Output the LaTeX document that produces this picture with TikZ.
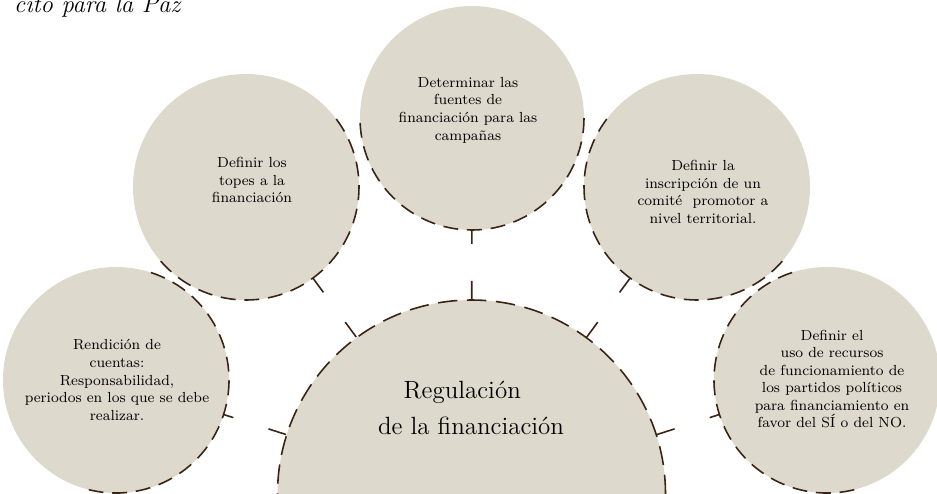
\documentclass[tikz,border=0pt]{standalone}
\usepackage{tikz}
\usetikzlibrary{calc}
\definecolor{discfill}{HTML}{DDD9CC}
\definecolor{rimbrown}{HTML}{3B2314}
\tikzset{
	disc/.style={circle, fill=discfill, inner sep=0pt},
	rim/.style={draw=rimbrown, line width=0.9pt, dash pattern=on 8.5pt off 5pt},
	hubrim/.style={draw=rimbrown, line width=0.9pt, dash pattern=on 11pt off 5.5pt},
	link/.style={draw=rimbrown, line width=0.9pt, dash pattern=on 10.5pt off 21pt},
	txt/.style={align=center, font=\fontsize{8.3}{10}\selectfont},
}
% half outline of a disc, turned towards the hub
\def\rimarc(#1)(#2:#3:#4){\draw[rim] ([shift={(#2:#4)}]#1.center) arc (#2:#3:#4);}

\begin{document}
\begin{tikzpicture}
			%%%%% START %%%%%
			\useasboundingbox (0, 0) rectangle (18.74, 9.86);
			
			\node[anchor=base west, font=\fontsize{14}{17}\selectfont\itshape] (title) at (0.16, 9.6) {cito para la Paz};
			
			\node[disc, hubrim, minimum size=7.76cm] (hub) at (9.43, -0.02) {};
			\node[disc, minimum size=4.48cm] (top) at (9.44, 7.5) {};
			\node[disc, minimum size=4.52cm] (topleft) at (4.92, 6.12) {};
			\node[disc, minimum size=4.52cm] (topright) at (13.94, 6.12) {};
			\node[disc, minimum size=4.52cm] (left) at (2.32, 2.26) {};
			\node[disc, minimum size=4.52cm] (right) at (16.54, 2.26) {};
			
			\rimarc(top)(0:-180:2.24);
			\rimarc(topleft)(37:-143:2.26);
			\rimarc(topright)(143:323:2.26);
			\rimarc(left)(72:-108:2.26);
			\rimarc(right)(108:288:2.26);
			
			\draw[link] (hub) -- (top);
			\draw[link] (hub) -- (topleft);
			\draw[link] (hub) -- (topright);
			\draw[link] (hub) -- (left);
			\draw[link] (hub) -- (right);
			
			\node[align=center, font=\fontsize{14.2}{20.5}\selectfont] (hub-txt) at (9.42, 1.7) {Regulación\hspace*{0.7em}\\ de la financiación};
			\node[txt] (top-txt) at (9.36, 7.66) {Determinar las\\ fuentes de\\ financiación para las\\ campañas};
			\node[txt] (topleft-txt) at (5.04, 6.26) {Definir los\\ topes a la\hspace*{0.4em}\\ financiación};
			\node[txt] (topright-txt) at (14.06, 6.02) {Definir la\\ inscripción de un\\ comité~ promotor a\\ nivel territorial.};
			\node[txt] (left-txt) at (2.34, 2.26) {Rendición de\\ cuentas:\\ Responsabilidad,\\ periodos en los que se debe\\ realizar.};
			\node[txt] (right-txt) at (16.64, 2.28) {Definir el\\ uso de recursos\\ de funcionamiento de\\ los partidos políticos\\ para financiamiento en\\ favor del SÍ o del NO.};
			
			%%%%% END %%%%%
\end{tikzpicture}
\end{document}
